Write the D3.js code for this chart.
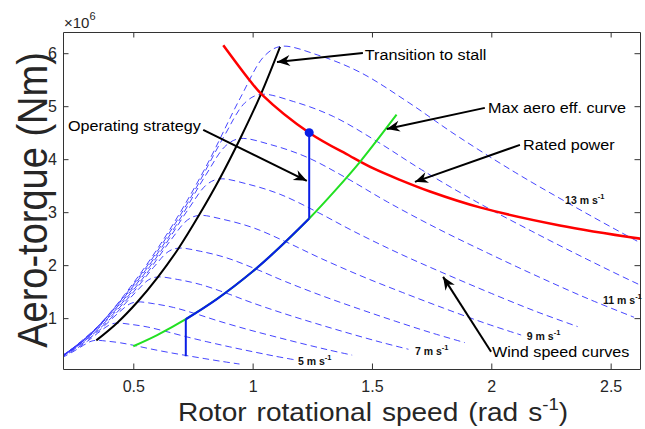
<!DOCTYPE html>
<html>
<head>
<meta charset="utf-8">
<script src="https://cdn.jsdelivr.net/npm/d3@7"></script>
<style>
  body { margin: 0; background: #fff; }
  svg { display: block; font-family: "Liberation Sans", Arial, sans-serif; }
</style>
</head>
<body>
<div id="chart"></div>
<script>
// wind speed curves: [rotor speed (rad/s), aero torque (x1e6 Nm)]
var ws4  = [[0.2,0.251],[0.246,0.362],[0.292,0.49],[0.323,0.563],[0.345,0.581],[0.391,0.565],[0.446,0.534],[0.508,0.481],[0.569,0.422],[0.646,0.355],[0.723,0.294],[0.8,0.235],[0.877,0.179],[0.945,0.134]];
var ws5  = [[0.192,0.246],[0.25,0.392],[0.308,0.565],[0.365,0.765],[0.404,0.88],[0.431,0.907],[0.488,0.883],[0.558,0.834],[0.635,0.751],[0.712,0.66],[0.808,0.555],[0.904,0.458],[1.0,0.367],[1.096,0.28],[1.181,0.21]];
var ws6  = [[0.162,0.179],[0.231,0.354],[0.3,0.564],[0.369,0.814],[0.438,1.101],[0.485,1.267],[0.517,1.306],[0.586,1.272],[0.669,1.201],[0.762,1.082],[0.854,0.95],[0.969,0.799],[1.085,0.66],[1.2,0.528],[1.315,0.403],[1.417,0.302]];
var ws7  = [[0.188,0.244],[0.269,0.481],[0.35,0.768],[0.431,1.107],[0.512,1.499],[0.565,1.725],[0.603,1.777],[0.684,1.731],[0.781,1.635],[0.889,1.473],[0.996,1.293],[1.131,1.087],[1.265,0.899],[1.4,0.719],[1.535,0.548],[1.653,0.412]];
var ws8  = [[0.123,0.102],[0.215,0.318],[0.308,0.629],[0.4,1.004],[0.492,1.447],[0.585,1.958],[0.646,2.253],[0.689,2.321],[0.782,2.261],[0.892,2.136],[1.015,1.924],[1.138,1.689],[1.292,1.42],[1.446,1.174],[1.6,0.939],[1.754,0.716],[1.889,0.538]];
var ws9  = [[0.138,0.129],[0.242,0.403],[0.346,0.796],[0.45,1.27],[0.554,1.831],[0.658,2.478],[0.727,2.852],[0.775,2.938],[0.879,2.861],[1.004,2.703],[1.142,2.435],[1.281,2.138],[1.454,1.797],[1.627,1.486],[1.8,1.189],[1.973,0.906],[2.125,0.681]];
var ws10 = [[0.154,0.16],[0.269,0.497],[0.385,0.982],[0.5,1.568],[0.615,2.26],[0.731,3.059],[0.808,3.521],[0.862,3.627],[0.977,3.532],[1.115,3.337],[1.269,3.006],[1.423,2.639],[1.615,2.219],[1.808,1.834],[2.0,1.467],[2.192,1.118],[2.362,0.84]];
var ws11 = [[0.169,0.193],[0.296,0.601],[0.423,1.189],[0.55,1.897],[0.677,2.735],[0.804,3.702],[0.889,4.26],[0.948,4.389],[1.075,4.275],[1.227,4.038],[1.396,3.637],[1.565,3.193],[1.777,2.685],[1.989,2.22],[2.2,1.776],[2.412,1.353],[2.598,1.017]];
var ws12 = [[0.185,0.23],[0.323,0.716],[0.462,1.414],[0.6,2.258],[0.738,3.255],[0.877,4.405],[0.969,5.07],[1.034,5.223],[1.172,5.087],[1.338,4.806],[1.523,4.329],[1.708,3.8],[1.938,3.195],[2.169,2.642],[2.4,2.113],[2.631,1.61],[2.834,1.21]];
var ws13 = [[0.2,0.27],[0.35,0.84],[0.5,1.66],[0.65,2.65],[0.8,3.82],[0.95,5.17],[1.05,5.95],[1.12,6.13],[1.27,5.97],[1.45,5.64],[1.65,5.08],[1.85,4.46],[2.1,3.75],[2.35,3.1],[2.6,2.48],[2.85,1.89],[3.07,1.42]];
var windCurves = [ws4, ws5, ws6, ws7, ws8, ws9, ws10, ws11, ws12, ws13];

var labelSpeeds = [13, 11, 9, 7, 5];
var labelAt = [[2.309,3.157],[2.468,1.27],[2.149,0.591],[1.68,0.308],[1.19,0.119]];

// transition to stall (through the curve peaks)
var stallLine = [[0.345,0.58],[0.431,0.905],[0.517,1.305],[0.603,1.775],[0.69,2.32],[0.775,2.94],[0.862,3.63],[0.948,4.39],[1.034,5.22],[1.115,6.12]];
var ratedPower = [[0.877,6.15],[0.989,5.48],[1.039,5.22],[1.237,4.5],[1.408,4.06],[1.504,3.83],[1.617,3.61],[1.743,3.39],[1.952,3.09],[2.287,2.75],[2.624,2.5]];
var maxEffCurve = [[0.5,0.47],[0.6,0.68],[0.72,0.98],[0.85,1.36],[1.0,1.88],[1.1,2.28],[1.237,2.88],[1.35,3.43],[1.45,3.95],[1.603,4.84]];
var opLow = [[0.72,0.28],[0.72,0.98]];
var opTrack = [[0.72,0.98],[0.85,1.36],[1.0,1.88],[1.1,2.28],[1.237,2.88]];
var opHigh = [[1.237,2.88],[1.237,4.5]];
var ratedPoint = [1.237, 4.5];

var noteText = ['Transition to stall', 'Max aero eff. curve', 'Rated power', 'Operating strategy', 'Wind speed curves'];
var noteAt = [[1.47,5.873],[1.986,4.874],[2.133,4.175],[0.226,4.525],[2.003,0.27]];
var arrowTail = [[1.462,6.005],[1.973,4.968],[2.12,4.27],[0.793,4.553],[1.999,0.364]];
var arrowTip = [[1.102,5.835],[1.562,4.57],[1.68,3.572],[1.227,3.591],[1.798,1.779]];

var xTicks = [0.5, 1, 1.5, 2, 2.5];
var xTickLabels = ['0.5', '1', '1.5', '2', '2.5'];
var yTicks = [1, 2, 3, 4, 5, 6];
var yTickLabels = ['1', '2', '3', '4', '5', '6'];

var W = 645, H = 429;
var mLeft = 63, mRight = 640, mTop = 32, mBottom = 369;

var svg = d3.select('#chart').append('svg')
  .attr('width', W)
  .attr('height', H);

var x = d3.scaleLinear().domain([0.2055, 2.623]).range([mLeft, mRight]);
var y = d3.scaleLinear().domain([0.04, 6.4]).range([mBottom, mTop]);

var defs = svg.append('defs');
defs.append('clipPath').attr('id', 'plotclip')
  .append('rect')
  .attr('x', mLeft).attr('y', mTop)
  .attr('width', mRight - mLeft).attr('height', mBottom - mTop);
defs.append('marker')
  .attr('id', 'head')
  .attr('viewBox', '-14 -7 15 14')
  .attr('refX', 0).attr('refY', 0)
  .attr('markerWidth', 15).attr('markerHeight', 14)
  .attr('markerUnits', 'userSpaceOnUse')
  .attr('orient', 'auto')
  .append('path')
  .attr('d', 'M0,0 L-13,-5.5 L-9,0 L-13,5.5 Z')
  .attr('fill', '#000');

var line = d3.line()
  .x(function (d) { return x(d[0]); })
  .y(function (d) { return y(d[1]); })
  .curve(d3.curveCatmullRom);

var plot = svg.append('g').attr('clip-path', 'url(#plotclip)');

plot.append('g')
  .selectAll('path')
  .data(windCurves)
  .enter()
  .append('path')
  .attr('d', line)
  .attr('fill', 'none')
  .attr('stroke', '#3030ff')
  .attr('stroke-width', 0.9)
  .attr('stroke-dasharray', '6.5,4');

plot.append('path').datum(stallLine)
  .attr('d', line).attr('fill', 'none')
  .attr('stroke', '#000').attr('stroke-width', 2);

plot.append('path').datum(ratedPower)
  .attr('d', line).attr('fill', 'none')
  .attr('stroke', '#f00').attr('stroke-width', 2.5);

plot.append('path').datum(maxEffCurve)
  .attr('d', line).attr('fill', 'none')
  .attr('stroke', '#22e022').attr('stroke-width', 2);

var straight = d3.line()
  .x(function (d) { return x(d[0]); })
  .y(function (d) { return y(d[1]); });

[opLow, opHigh].forEach(function (seg) {
  plot.append('path').datum(seg)
    .attr('d', straight).attr('fill', 'none')
    .attr('stroke', '#0a1ee6').attr('stroke-width', 2);
});
plot.append('path').datum(opTrack)
  .attr('d', line).attr('fill', 'none')
  .attr('stroke', '#0a1ee6').attr('stroke-width', 2.2);

plot.append('circle')
  .attr('cx', x(ratedPoint[0]))
  .attr('cy', y(ratedPoint[1]))
  .attr('r', 4.5)
  .attr('fill', '#0a1ee6');

// axes, MATLAB style box with inward ticks
var axisColor = '#333';
function styleAxis(g) {
  g.select('.domain').attr('stroke', axisColor).attr('stroke-width', 1);
  g.selectAll('.tick line').attr('stroke', axisColor).attr('stroke-width', 1);
  g.selectAll('.tick text').attr('fill', '#262626').attr('font-size', 16);
  g.attr('font-family', null);
}

svg.append('g')
  .attr('transform', 'translate(0,' + mBottom + ')')
  .call(d3.axisBottom(x).tickValues(xTicks)
    .tickFormat(function (d, i) { return xTickLabels[i]; })
    .tickSizeInner(-5.5).tickSizeOuter(0).tickPadding(11.2))
  .call(styleAxis);

svg.append('g')
  .attr('transform', 'translate(0,' + mTop + ')')
  .call(d3.axisTop(x).tickValues(xTicks).tickFormat('')
    .tickSizeInner(-5.5).tickSizeOuter(0))
  .call(styleAxis);

svg.append('g')
  .attr('transform', 'translate(' + mLeft + ',0)')
  .call(d3.axisLeft(y).tickValues(yTicks)
    .tickFormat(function (d, i) { return yTickLabels[i]; })
    .tickSizeInner(-5.5).tickSizeOuter(0).tickPadding(6))
  .call(styleAxis);

svg.append('g')
  .attr('transform', 'translate(' + mRight + ',0)')
  .call(d3.axisRight(y).tickValues(yTicks).tickFormat('')
    .tickSizeInner(-5.5).tickSizeOuter(0))
  .call(styleAxis);

// exponent
var expo = svg.append('text')
  .attr('x', 64).attr('y', 28)
  .attr('font-size', 15).attr('fill', '#262626');
expo.append('tspan').text('\u00d710');
expo.append('tspan').attr('dy', -8).attr('font-size', 11).text('6');

// axis titles (source figure is slightly stretched horizontally)
var xt = svg.append('g')
  .attr('transform', 'translate(178,421) scale(1.1,1)')
  .append('text')
  .attr('font-size', 25.5).attr('fill', '#262626')
  .attr('word-spacing', 2);
xt.append('tspan').text('Rotor rotational speed (rad s');
xt.append('tspan').attr('dy', -11).attr('font-size', 17).text('-1');
xt.append('tspan').attr('dy', 11).text(')');

svg.append('g')
  .attr('transform', 'translate(46.5,200) scale(1.1,1) rotate(-90)')
  .append('text')
  .attr('text-anchor', 'middle')
  .attr('font-size', 38).attr('fill', '#262626')
  .text('Aero-torque (Nm)');

// wind speed labels
labelSpeeds.forEach(function (v, i) {
  var t = svg.append('text')
    .attr('x', x(labelAt[i][0]))
    .attr('y', y(labelAt[i][1]))
    .attr('font-size', 10.5).attr('font-weight', 'bold').attr('fill', '#111');
  t.append('tspan').text(v + ' m s');
  t.append('tspan').attr('dy', -4.5).attr('font-size', 7.5).text('-1');
});

// annotations
svg.append('g')
  .selectAll('line')
  .data(arrowTail)
  .enter()
  .append('line')
  .attr('x1', function (d) { return x(d[0]); })
  .attr('y1', function (d) { return y(d[1]); })
  .attr('x2', function (d, i) { return x(arrowTip[i][0]); })
  .attr('y2', function (d, i) { return y(arrowTip[i][1]); })
  .attr('stroke', '#000')
  .attr('stroke-width', 2)
  .attr('marker-end', 'url(#head)');

noteText.forEach(function (s, i) {
  svg.append('g')
    .attr('transform', 'translate(' + x(noteAt[i][0]) + ',' + y(noteAt[i][1]) + ') scale(1.1,1)')
    .append('text')
    .attr('font-size', 14.7).attr('fill', '#000')
    .text(s);
});
</script>
</body>
</html>
